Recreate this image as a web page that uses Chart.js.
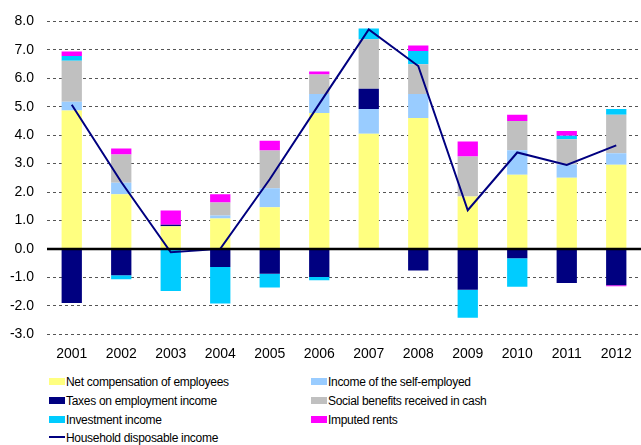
<!DOCTYPE html>
<html>
<head>
<meta charset="utf-8">
<script src="https://cdn.jsdelivr.net/npm/chart.js@4/dist/chart.umd.min.js"></script>
<style>
  body { margin: 0; background: #fff; font-family: "Liberation Sans", Arial, sans-serif; }
  #wrap { position: relative; width: 641px; height: 445px; }
  #box { position: absolute; left: 0; top: 0; width: 641px; height: 367px; }
  #legend { position: absolute; left: 49px; top: 375px; width: 590px; font-size: 12px; letter-spacing: -0.3px; color: #000; }
  .item { position: absolute; white-space: nowrap; line-height: 14px; }
  .mark { display: inline-block; width: 16px; height: 7px; margin-right: 1px; vertical-align: 1px; }
  .mark.line { height: 2px; vertical-align: 4px; }
</style>
</head>
<body>
<div id="wrap">
  <div id="box"><canvas id="chart"></canvas></div>
  <div id="legend"></div>
</div>
<script>
const years = ['2001', '2002', '2003', '2004', '2005', '2006', '2007', '2008', '2009', '2010', '2011', '2012'];

const netComp   = [4.87, 1.92, 0.80, 1.07, 1.46, 4.78, 4.05, 4.60, 1.84, 2.61, 2.50, 2.96];
const selfEmp   = [0.30, 0.41, 0.00, 0.10, 0.67, 0.67, 0.87, 0.85, 0.00, 0.86, 0.47, 0.40];
const taxes     = [-1.90, -0.93, 0.05, -0.64, -0.87, -0.99, 0.71, -0.76, -1.44, -0.33, -1.20, -1.28];
const socBen    = [1.45, 0.99, 0.00, 0.46, 1.33, 0.68, 1.74, 1.04, 1.41, 1.03, 0.89, 1.36];
const invest    = [0.16, -0.14, -1.48, -1.28, -0.49, -0.11, 0.38, 0.47, -0.98, -1.00, 0.12, 0.20];
const rents     = [0.16, 0.21, 0.50, 0.29, 0.34, 0.11, 0.00, 0.19, 0.53, 0.22, 0.17, -0.03];
const disposable = [5.07, 2.35, -0.12, 0.00, 2.45, 5.10, 7.72, 6.43, 1.36, 3.39, 2.95, 3.64];

const yMin = -3, yMax = 8;

function bar(label, data, color) {
  return {
    type: 'bar', label, data, backgroundColor: color, stack: 'inc', order: 1,
    barPercentage: 0.41, categoryPercentage: 1.0
  };
}

const datasets = [
  bar('Net compensation of employees', netComp, '#FFFF80'),
  bar('Income of the self-employed', selfEmp, '#99CCFF'),
  bar('Taxes on employment income', taxes, '#000080'),
  bar('Social benefits received in cash', socBen, '#C0C0C0'),
  bar('Investment income', invest, '#00CCFF'),
  bar('Imputed rents', rents, '#FF00FF'),
  {
    type: 'line', label: 'Household disposable income', data: disposable,
    borderColor: '#000080', backgroundColor: '#000080', borderWidth: 2,
    pointRadius: 0, tension: 0, stack: 'line', order: 0
  }
];

// black zero line on top of the bars
const zeroLine = {
  id: 'zeroLine',
  afterDatasetsDraw(chart) {
    const y = chart.scales.y.getPixelForValue(0);
    const a = chart.chartArea;
    const ctx = chart.ctx;
    ctx.save();
    ctx.strokeStyle = '#000';
    ctx.lineWidth = 2.5;
    ctx.beginPath();
    ctx.moveTo(a.left, y);
    ctx.lineTo(a.right, y);
    ctx.stroke();
    ctx.restore();
  }
};

const chart = new Chart(document.getElementById('chart'), {
  data: { labels: years, datasets },
  options: {
    responsive: true,
    maintainAspectRatio: false,
    animation: false,
    layout: { padding: { top: 8, right: 0, left: 0, bottom: 0 } },
    plugins: { legend: { display: false }, tooltip: { enabled: false } },
    scales: {
      x: {
        stacked: true,
        grid: { display: false },
        border: { display: false },
        ticks: { color: '#000', font: { family: 'Liberation Sans', size: 14 }, padding: 4 }
      },
      y: {
        stacked: true,
        min: yMin, max: yMax,
        afterFit(scale) { scale.width = 47; },
        grid: { color: '#555', lineWidth: 1, drawTicks: false },
        border: { display: false, dash: [3, 3] },
        ticks: {
          stepSize: 1, color: '#000', padding: 13,
          font: { family: 'Liberation Sans', size: 14 },
          callback: v => v.toFixed(1)
        }
      }
    }
  },
  plugins: [zeroLine]
});

// legend in two columns, like the original
const legendPos = [[0, 0], [262, 0], [0, 19], [262, 19], [0, 38], [262, 38], [0, 56]];
const legend = document.getElementById('legend');
datasets.forEach((ds, i) => {
  const item = document.createElement('div');
  item.className = 'item';
  item.style.left = legendPos[i][0] + 'px';
  item.style.top = legendPos[i][1] + 'px';
  const mark = document.createElement('span');
  mark.className = 'mark' + (ds.type === 'line' ? ' line' : '');
  mark.style.background = ds.type === 'line' ? ds.borderColor : ds.backgroundColor;
  item.appendChild(mark);
  item.appendChild(document.createTextNode(ds.label));
  legend.appendChild(item);
});
</script>
</body>
</html>
